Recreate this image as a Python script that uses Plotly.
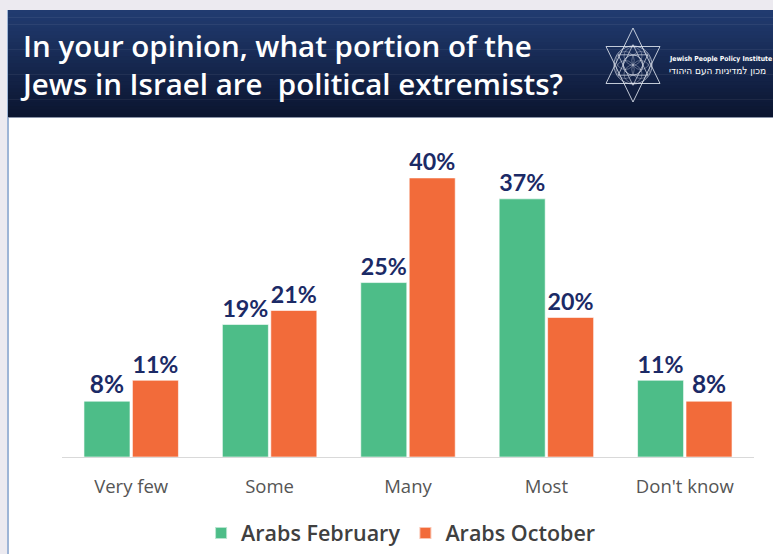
import math
import plotly.graph_objects as go

# Survey answers and shares (%)
categories = ["Very few", "Some", "Many", "Most", "Don't know"]
feb_values = [8, 19, 25, 37, 11]
oct_values = [11, 21, 40, 20, 8]
series_names = ["Arabs February", "Arabs October"]

title_lines = ["In your opinion, what portion of the",
               "Jews in Israel are  political extremists?"]

W, H = 773, 554
L, R, T, B = 62, 19, 150, 97
PW, PH = W - L - R, H - T - B


def px(x):
    return (x - L) / PW


def py(y):
    return (H - B - y) / PH


GREEN = "#4DBD88"
ORANGE = "#F26B3A"
NAVY_TXT = "#1B2A66"

fig = go.Figure()
for name, vals, col in [(series_names[0], feb_values, GREEN),
                        (series_names[1], oct_values, ORANGE)]:
    fig.add_trace(go.Bar(
        x=categories, y=vals, name=name,
        marker=dict(color=col, line=dict(color="rgba(255,255,255,0.6)", width=1)),
        text=[f"{v}%" for v in vals], textposition="outside",
        textfont=dict(family="Lato", size=24.5, color=NAVY_TXT, weight="bold"),
        cliponaxis=False,
    ))

shapes = []
# white panel with a thin blue left edge
shapes.append(dict(type="rect", xref="paper", yref="paper",
                   x0=px(7), x1=px(W + 5), y0=py(10), y1=py(H + 5),
                   fillcolor="white", line=dict(width=0), layer="below"))
shapes.append(dict(type="line", xref="paper", yref="paper",
                   x0=px(8), x1=px(8), y0=py(10), y1=py(H + 5),
                   line=dict(color="#7E9CC8", width=1.5), layer="below"))

# header band with vertical gradient
top_c = (0x21, 0x3B, 0x70)
bot_c = (0x0B, 0x15, 0x30)
y_top, y_bot = 10, 117
n = 30
for i in range(n):
    f = i / (n - 1)
    c = tuple(int(round(top_c[k] + (bot_c[k] - top_c[k]) * f)) for k in range(3))
    ya = y_top + (y_bot - y_top) * i / n
    yb = y_top + (y_bot - y_top) * (i + 1) / n + 0.6
    shapes.append(dict(type="rect", xref="paper", yref="paper",
                       x0=px(8), x1=px(W + 5), y0=py(ya), y1=py(yb),
                       fillcolor="rgb(%d,%d,%d)" % c, line=dict(width=0), layer="below"))
shapes.append(dict(type="line", xref="paper", yref="paper",
                   x0=px(8), x1=px(W + 5), y0=py(117.5), y1=py(117.5),
                   line=dict(color="#8A93A8", width=1), layer="below"))

# emblem: star of David with inner ornament
cx, cy = 633, 65
ry, rx = 37, 27
star_col = "rgba(225,230,240,0.85)"


def tri_path(pts):
    return "M " + " L ".join(f"{px(a)},{py(b)}" for a, b in pts) + " Z"


for s, w in ((1.0, 1.0), (0.55, 0.8)):
    up = [(cx, cy - ry * s), (cx - rx * s, cy + ry * s / 2), (cx + rx * s, cy + ry * s / 2)]
    dn = [(cx, cy + ry * s), (cx - rx * s, cy - ry * s / 2), (cx + rx * s, cy - ry * s / 2)]
    for tri in (up, dn):
        shapes.append(dict(type="path", xref="paper", yref="paper", path=tri_path(tri),
                           line=dict(color=star_col, width=w)))
for r in (19, 10):
    shapes.append(dict(type="circle", xref="paper", yref="paper",
                       x0=px(cx - r), x1=px(cx + r), y0=py(cy - r), y1=py(cy + r),
                       line=dict(color=star_col, width=0.8)))
for k in range(6):
    a = math.radians(30 + 60 * k)
    ox, oy = cx + 9 * math.cos(a), cy + 9 * math.sin(a)
    shapes.append(dict(type="circle", xref="paper", yref="paper",
                       x0=px(ox - 9), x1=px(ox + 9), y0=py(oy - 9), y1=py(oy + 9),
                       line=dict(color="rgba(225,230,240,0.5)", width=0.7)))

annotations = [dict(
    text="<br>".join(title_lines), xref="paper", yref="paper", x=px(18), y=py(64),
    xanchor="left", yanchor="middle", align="left", showarrow=False,
    font=dict(family="Open Sans", size=29.5, color="white", weight=600))]
annotations.append(dict(
    text="<b>Jewish People Policy Institute</b>", xref="paper", yref="paper",
    x=px(667), y=py(59), xanchor="left", yanchor="middle", showarrow=False,
    font=dict(family="Liberation Sans Narrow, DejaVu Sans Condensed", size=6.8, color="white")))
annotations.append(dict(
    text="מכון למדיניות העם היהודי", xref="paper", yref="paper",
    x=px(667), y=py(70), xanchor="left", yanchor="middle", showarrow=False,
    font=dict(family="DejaVu Sans Condensed, Liberation Sans Narrow", size=10, color="white")))

fig.update_layout(
    width=W, height=H,
    margin=dict(l=L, r=R, t=T, b=B, autoexpand=False),
    paper_bgcolor="#ECEAF0", plot_bgcolor="white",
    barmode="group", bargap=0.3, bargroupgap=0.05,
    shapes=shapes, annotations=annotations,
    showlegend=True,
    legend=dict(orientation="h", x=0.49, xanchor="center", y=py(533), yanchor="middle",
                font=dict(family="Open Sans", size=21.5, color="#404040", weight=600),
                itemsizing="constant", bgcolor="rgba(0,0,0,0)"),
    xaxis=dict(showgrid=False, showline=True, linecolor="#D9D9D9", linewidth=1,
               ticks="outside", ticklen=13, tickcolor="rgba(0,0,0,0)",
               tickfont=dict(family="Open Sans", size=18.5, color="#555555"), fixedrange=True),
    yaxis=dict(range=[0, 44], visible=False, fixedrange=True),
)

fig.write_html("out.html")
